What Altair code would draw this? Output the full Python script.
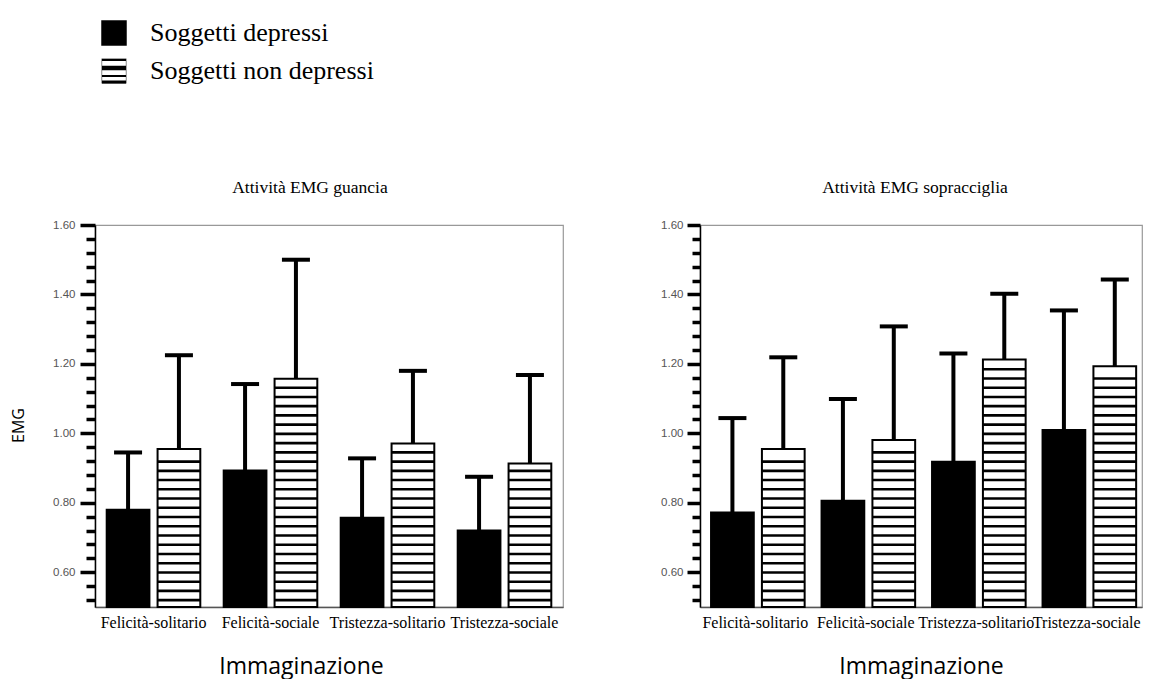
import altair as alt
import pandas as pd
import numpy as np

categories = ["Felicità-solitario", "Felicità-sociale", "Tristezza-solitario", "Tristezza-sociale"]
groups = ["Soggetti depressi", "Soggetti non depressi"]

# Attività EMG guancia (mean, upper end of error bar)
guancia_dep = [0.78, 0.893, 0.757, 0.72]
guancia_dep_up = [0.945, 1.142, 0.928, 0.875]
guancia_non = [0.955, 1.157, 0.971, 0.913]
guancia_non_up = [1.225, 1.50, 1.18, 1.168]

# Attività EMG sopracciglia
sopr_dep = [0.772, 0.806, 0.918, 1.010]
sopr_dep_up = [1.044, 1.099, 1.230, 1.354]
sopr_non = [0.955, 0.981, 1.213, 1.193]
sopr_non_up = [1.219, 1.308, 1.402, 1.443]

y_ticks = [round(0.52 + 0.04 * i, 2) for i in range(28)]

SERIF = "Liberation Serif"
SANS = "Open Sans"


def make_df(dep, dep_up, non, non_up):
    rows = []
    for c, v, u in zip(categories, dep, dep_up):
        rows.append({"cat": c, "group": groups[0], "value": v, "upper": u, "base": 0.5})
    for c, v, u in zip(categories, non, non_up):
        rows.append({"cat": c, "group": groups[1], "value": v, "upper": u, "base": 0.5})
    return pd.DataFrame(rows)


def make_stripes(non):
    period, thick = 0.0266, 0.0075
    rows = []
    for c, v in zip(categories, non):
        lev = 0.5 + period * 0.6
        while lev + thick < v - 0.012:
            rows.append({"cat": c, "group": groups[1], "lo": lev, "hi": lev + thick})
            lev += period
    return pd.DataFrame(rows)


def panel(df, stripes, title, w, title_dx, ytitle, major_len, minor_len, label_pad, xtitle_x):
    xenc = alt.X("cat:N", sort=categories,
                 scale=alt.Scale(domain=categories, paddingInner=0.2, paddingOuter=0.1),
                 axis=alt.Axis(title="Immaginazione", labelFont=SERIF, labelFontSize=16,
                               labelColor="black", labelAngle=0, labelPadding=7,
                               labelOverlap=False, ticks=False, domainColor="#555",
                               domainWidth=1.5, titleFont=SANS, titleFontSize=23,
                               titleFontWeight="normal", titleColor="black",
                               titleX=xtitle_x, titleY=66, titleBaseline="alphabetic",
                               titleAlign="center"))
    xo = alt.XOffset("group:N", sort=groups,
                     scale=alt.Scale(domain=groups, paddingInner=0.16))
    major_test = "abs(datum.value*5 - round(datum.value*5)) < 0.001"
    yaxis_kwargs = dict(
        values=y_ticks,
        tickCount=200,
        labelExpr=f"{major_test} ? format(datum.value, '.2f') : ''",
        labelOverlap=False,
        tickSize={"condition": {"test": major_test, "value": major_len}, "value": minor_len},
        tickWidth=3.5, tickColor="black", domainColor="black", domainWidth=1.5,
        labelFont="Liberation Sans", labelFontSize=11.5, labelColor="#555",
        labelPadding=label_pad, grid=False,
    )
    if ytitle:
        yaxis_kwargs.update(title="EMG", titleFont=SANS, titleFontSize=16,
                            titleFontWeight="normal", titleColor="black",
                            titleX=-72, titleY=200, titleAngle=-90,
                            titleBaseline="alphabetic", titleAlign="center")
    else:
        yaxis_kwargs.update(title=None)
    yscale = alt.Scale(domain=[0.5, 1.6], nice=False, zero=False)
    yenc = alt.Y("value:Q", scale=yscale, axis=alt.Axis(**yaxis_kwargs))

    base = alt.Chart(df)
    bars = base.mark_bar(stroke="black", strokeWidth=2).encode(
        x=xenc, xOffset=xo, y=yenc, y2="base:Q",
        fill=alt.Fill("group:N", scale=alt.Scale(domain=groups, range=["black", "white"]),
                      legend=None),
    )
    stripe_layer = alt.Chart(stripes).mark_bar(color="black").encode(
        x=xenc, xOffset=xo, y=alt.Y("lo:Q", scale=yscale), y2="hi:Q")
    whisk = base.mark_rule(color="black", strokeWidth=4).encode(
        x=xenc, xOffset=xo, y=alt.Y("value:Q", scale=yscale), y2="upper:Q")
    cap = base.mark_tick(color="black", thickness=4, size=28, opacity=1).encode(
        x=xenc, xOffset=xo, y=alt.Y("upper:Q", scale=yscale))
    return alt.layer(bars, stripe_layer, whisk, cap).properties(
        width=w, height=382,
        title=alt.TitleParams(title, font=SERIF, fontSize=17.5, fontWeight="normal",
                              color="black", offset=23, dx=title_dx),
    )


left = panel(make_df(guancia_dep, guancia_dep_up, guancia_non, guancia_non_up),
             make_stripes(guancia_non), "Attività EMG guancia", 468, -19, True, 15, 9, 5, 206)
right = panel(make_df(sopr_dep, sopr_dep_up, sopr_non, sopr_non_up),
              make_stripes(sopr_non), "Attività EMG sopracciglia", 442, -6, False, 13, 8, 4, 221)

# legend
leg_df = pd.DataFrame({"label": groups})
Y1, Y2 = 32, 70
dep_only = alt.datum.label == groups[0]
non_only = alt.datum.label == groups[1]
sq = alt.Chart(leg_df).transform_filter(dep_only).mark_square(
    color="black", size=650, opacity=1).encode(x=alt.value(19), y=alt.value(Y1))
sq2 = alt.Chart(leg_df).transform_filter(non_only).mark_square(
    fill="white", stroke="#888", strokeWidth=1, size=600, opacity=1).encode(
    x=alt.value(19), y=alt.value(Y2))
stripe_offsets = [(-11, 2), (-3, 4.5), (5, 2), (11, 3)]
leg_stripes = [
    alt.Chart(leg_df).transform_filter(non_only).mark_rule(
        color="black", strokeWidth=sw).encode(
        x=alt.value(7), x2=alt.value(31), y=alt.value(Y2 + off))
    for off, sw in stripe_offsets
]
txt1 = alt.Chart(leg_df).transform_filter(dep_only).mark_text(
    font=SERIF, fontSize=26, align="left", baseline="middle", color="black").encode(
    x=alt.value(55), y=alt.value(Y1), text="label:N")
txt2 = alt.Chart(leg_df).transform_filter(non_only).mark_text(
    font=SERIF, fontSize=26, align="left", baseline="middle", color="black").encode(
    x=alt.value(55), y=alt.value(Y2), text="label:N")
legend = alt.layer(sq, sq2, *leg_stripes, txt1, txt2).properties(
    width=500, height=85, view=alt.ViewBackground(stroke="transparent"))

chart = alt.vconcat(
    legend,
    alt.hconcat(left, right, spacing=96),
    spacing=90,
).configure(padding={"left": 9, "top": 0, "right": 0, "bottom": 0}).configure_view(
    stroke="#999", strokeWidth=1.2
)

chart.save("out.html", embed_options={"renderer": "svg", "actions": False})
